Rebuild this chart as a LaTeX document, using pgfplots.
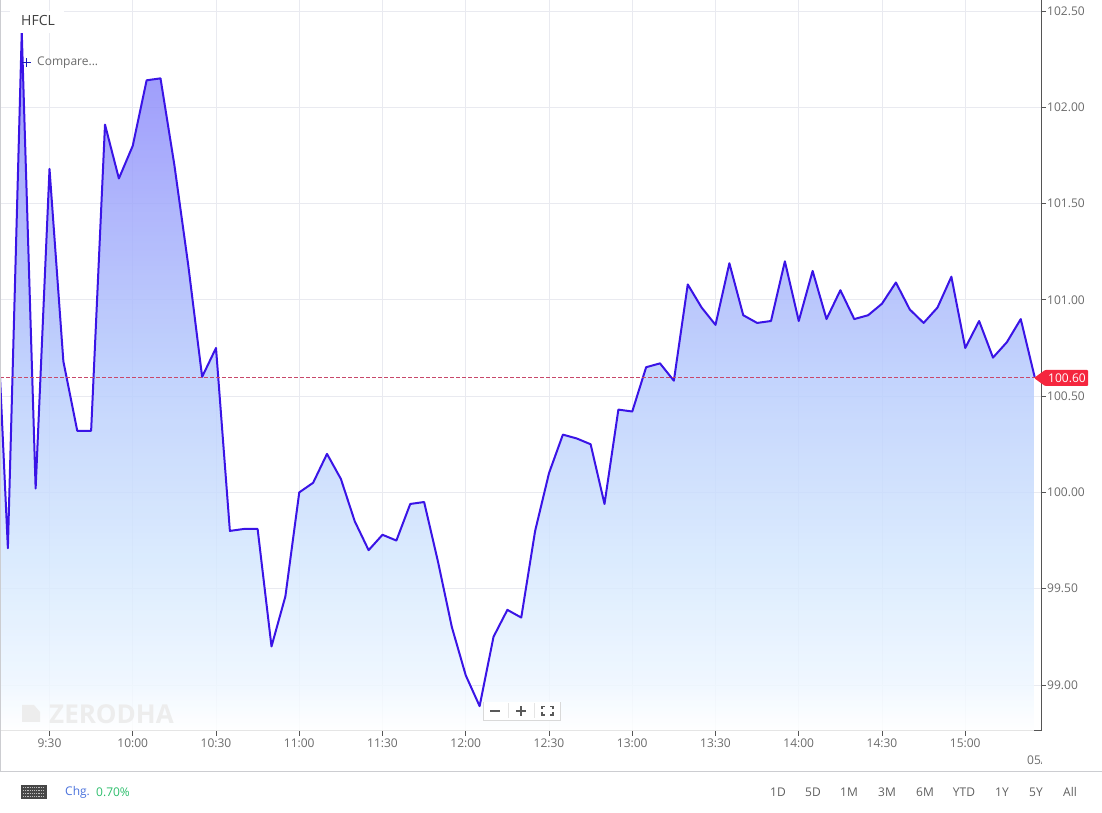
\documentclass[border=0pt]{standalone}
\usepackage{pgfplots}
\usepackage{pgfplotstable}
\usepackage{fontspec}
\setmainfont{Open Sans}
\pgfplotsset{compat=1.18}
\pgfdeclareverticalshading{chartfill}{100bp}{rgb(0bp)=(1,1,1); rgb(25bp)=(1,1,1); rgb(28.7bp)=(0.926,0.963,1); rgb(37.3bp)=(0.834,0.908,0.995); rgb(50.8bp)=(0.719,0.797,0.991); rgb(63bp)=(0.631,0.659,0.986); rgb(71.5bp)=(0.561,0.553,0.981); rgb(75bp)=(0.54,0.53,0.98); rgb(100bp)=(0.54,0.53,0.98)}
\definecolor{gridc}{HTML}{E9EAF0}
\definecolor{spine}{HTML}{555555}
\definecolor{tickt}{HTML}{6B6B6B}
\definecolor{linec}{HTML}{3A14E6}
\definecolor{tagc}{HTML}{F5263E}
\definecolor{dashc}{HTML}{C8486A}
\definecolor{chgc}{HTML}{4A72DC}
\definecolor{pctc}{HTML}{2DBE6C}
\pgfplotstableread{
t v
552.16 98.761
552.16 100.60
555 99.71
560 102.39
565 100.02
570 101.68
575 100.68
580 100.32
585 100.32
590 101.91
595 101.63
600 101.80
605 102.14
610 102.15
615 101.70
620 101.18
625 100.60
630 100.75
635 99.80
640 99.81
645 99.81
650 99.20
655 99.46
660 100.00
665 100.05
670 100.20
675 100.07
680 99.85
685 99.70
690 99.78
695 99.75
700 99.94
705 99.95
710 99.64
715 99.30
720 99.05
725 98.89
730 99.25
735 99.39
740 99.35
745 99.80
750 100.10
755 100.30
760 100.28
765 100.25
770 99.94
775 100.43
780 100.42
785 100.65
790 100.67
795 100.58
800 101.08
805 100.96
810 100.87
815 101.19
820 100.92
825 100.88
830 100.89
835 101.20
840 100.89
845 101.15
850 100.90
855 101.05
860 100.90
865 100.92
870 100.98
875 101.09
880 100.95
885 100.88
890 100.96
895 101.12
900 100.75
905 100.89
910 100.70
915 100.78
920 100.90
925 100.60
925 98.761
}\pricedata
\begin{document}
\begin{tikzpicture}[x=1pt,y=1pt,every node/.style={font=\fontsize{12}{14}\selectfont,inner sep=0pt}]
\path[use as bounding box] (0,-82) rectangle (1102,731);
\begin{axis}[
  at={(0,0)},anchor=south west,
  scale only axis,width=1041pt,height=731pt,
  xmin=552.16,xmax=927.3,ymin=98.761,ymax=102.557,
  axis x line*=bottom,axis y line*=right,
  axis line style={spine,-,line width=1pt},
  tick style={spine,line width=0.8pt},
  tick align=outside,major tick length=5pt,
  grid=major,grid style={gridc,line width=0.8pt},
  xtick={570,600,630,660,690,720,750,780,810,840,870,900},
  xticklabels={9:30,10:00,10:30,11:00,11:30,12:00,12:30,13:00,13:30,14:00,14:30,15:00},
  ytick={99,99.5,100,100.5,101,101.5,102,102.5},
  /pgf/number format/assume math mode=true,
  /pgf/number format/fixed,/pgf/number format/fixed zerofill,/pgf/number format/precision=2,
  tick label style={font=\fontsize{12}{14}\selectfont,text=tickt,inner sep=0pt},
  xticklabel style={yshift=-3pt},
  yticklabel style={xshift=1pt},
  clip=true,
  clip mode=individual,
]
\addplot[draw=none,shade,shading=chartfill,fill opacity=0.85,forget plot] table[x=t,y=v] {\pricedata};
\addplot[color=linec,line width=2pt,line join=round,
  skip coords between index={0}{1},skip coords between index={77}{78},forget plot] table[x=t,y=v] {\pricedata};
\addplot[color=dashc,line width=0.7pt,dash pattern=on 3.5pt off 2.5pt,forget plot] coordinates {(552.16,100.60) (927.3,100.60)};
\end{axis}
% chrome
\draw[gridc!85!black!90,line width=1pt] (0.5,731) -- (0.5,-41) -- (1102,-41);
\fill[white] (10,698) rectangle (64,720);
\node[anchor=west,text=black!75] at (21,710.5) {\fontsize{14}{16}\selectfont HFCL};
\draw[color=blue!70!black!90,line width=1.8pt] (22,668.5) -- (31,668.5) (26.5,664) -- (26.5,673);
\node[anchor=west,text=tickt] at (37,668) {Compare...};
% watermark
\fill[black!7] (22,9) -- (22,26) -- (34,26) -- (40,19) -- (40,9) -- cycle;
\node[anchor=west,text=black!7] at (49,17) {\fontsize{26}{28}\selectfont\bfseries ZERODHA};
% zoom control
\fill[black!15] (483,9.5) rectangle (561,29);
\fill[white] (484,11) rectangle (560,29);
\draw[black!10] (508.5,13) -- (508.5,28) (534.5,13) -- (534.5,28);
\draw[black!65,line width=1.5pt] (490,20) -- (500,20) (516,20) -- (526,20) (521,15) -- (521,25);
\draw[black!65,line width=1.2pt] (542,19) -- (542,16) -- (545,16) (550,16) -- (553,16) -- (553,19) (553,21.5) -- (553,24.5) -- (550,24.5) (545,24.5) -- (542,24.5) -- (542,21.5);
% price tag
\fill[tagc,rounded corners=1pt] (1034,353) -- (1045,361) -- (1088,361) -- (1088,345) -- (1045,345) -- cycle;
\node[anchor=west,text=white] at (1048,353) {100.60};
% date fragment
\begin{scope}
\clip (1020,-40) rectangle (1041,-20);
\node[anchor=west,text=tickt] at (1027,-29) {05/03};
\end{scope}
% keyboard icon
\fill[black!72] (21,-68) rectangle (47,-54);
\foreach \yy in {-65,-62,-59,-56.5}{\draw[white!75!black,line width=0.8pt,dash pattern=on 1.2pt off 1pt] (23,\yy) -- (45,\yy);}
% bottom bar
\node[anchor=west,text=chgc] at (65,-61) {Chg.};
\node[anchor=west,text=pctc] at (96,-61) {0.70\%};
\foreach \xx/\tt in {778/1D,813/5D,849/1M,887/3M,925/6M,964/YTD,1002/1Y,1036/5Y,1070/All}{
  \node[text=tickt!90!black] at (\xx,-61) {\tt};
}
\end{tikzpicture}
\end{document}
